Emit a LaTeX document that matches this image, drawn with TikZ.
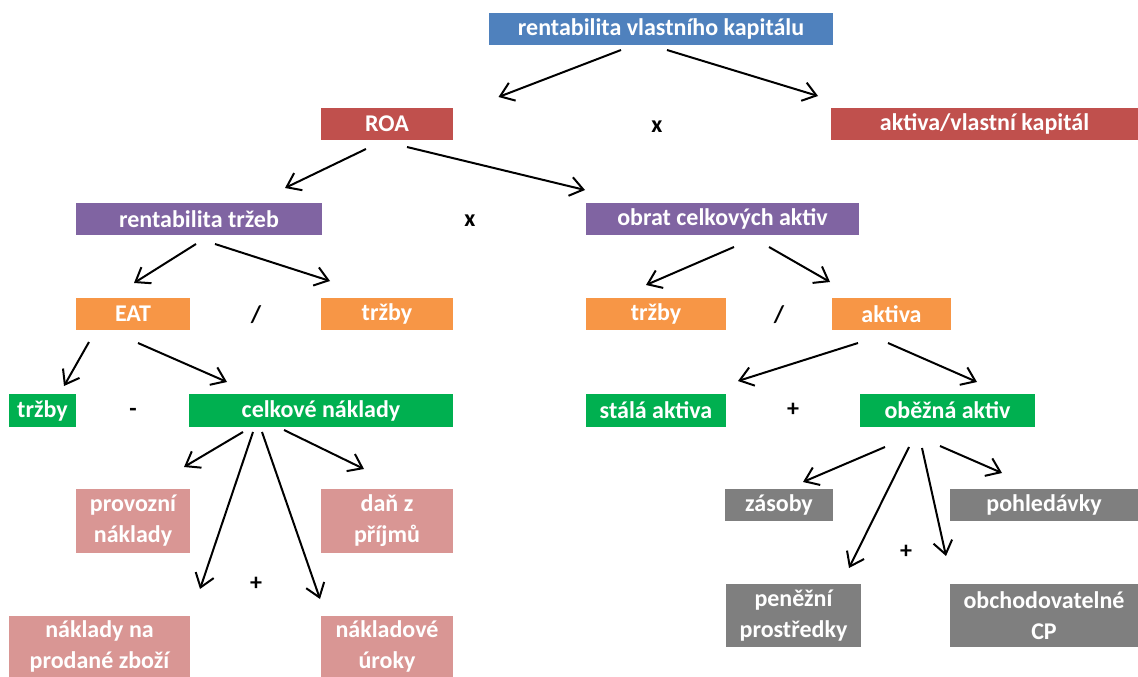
\documentclass[tikz,border=0pt]{standalone}
\usepackage{fontspec}
\setmainfont{Carlito}
\usetikzlibrary{arrows.meta}
\definecolor{cblue}{HTML}{4F81BD}
\definecolor{cred}{HTML}{C0504D}
\definecolor{cpurple}{HTML}{8064A2}
\definecolor{corange}{HTML}{F79646}
\definecolor{cgreen}{HTML}{00B050}
\definecolor{cpink}{HTML}{D99694}
\definecolor{cgray}{HTML}{7F7F7F}
\tikzset{
  box/.style={anchor=north west, inner sep=0pt, outer sep=0pt, text=white,
    font=\fontsize{24}{31}\selectfont\bfseries, align=center},
  blue/.style={box, fill=cblue},
  red/.style={box, fill=cred},
  purple/.style={box, fill=cpurple},
  orange/.style={box, fill=corange},
  green/.style={box, fill=cgreen},
  pink/.style={box, fill=cpink},
  gray/.style={box, fill=cgray},
  op/.style={inner sep=0pt, font=\fontsize{24}{31}\selectfont\bfseries},
  arr/.style={line width=2pt, -{Straight Barb[length=13pt,width=19pt,line width=2pt]}},
}
\newcommand{\bx}[7]{\node[#1, minimum width=#5pt, minimum height=#6pt] (#2) at (#3,#4) {#7};}
\begin{document}
\begin{tikzpicture}[x=1pt,y=-1pt]
\useasboundingbox (0,0) rectangle (1138,677);
% level 1
\bx{blue}{top}{489}{13}{344}{32}{rentabilita vlastního kapitálu}
% level 2
\bx{red}{roa}{321}{108}{132}{32}{ROA}
\bx{red}{akvk}{831}{108}{307}{32}{aktiva/vlastní kapitál}
% level 3
\bx{purple}{rt}{76}{203}{246}{32}{rentabilita tržeb}
\bx{purple}{oca}{586}{203}{273}{32}{obrat celkových aktiv}
% level 4
\bx{orange}{eat}{76}{298}{114}{32}{EAT}
\bx{orange}{trzA}{321}{298}{132}{32}{tržby}
\bx{orange}{trzB}{586}{298}{140}{32}{tržby}
\bx{orange}{akt}{832}{298}{119}{32}{aktiva}
% level 5
\bx{green}{trzC}{9}{394}{67}{33}{tržby}
\bx{green}{cn}{189}{394}{264}{33}{celkové náklady}
\bx{green}{sa}{586}{394}{140}{33}{stálá aktiva}
\bx{green}{oa}{860}{394}{175}{33}{oběžná aktiv}
% cost items
\bx{pink}{pn}{76}{489}{114}{64}{provozní\\náklady}
\bx{pink}{dz}{321}{489}{132}{64}{daň z\\příjmů}
\bx{pink}{nz}{9}{616}{181}{61}{náklady na\\prodané zboží}
\bx{pink}{nu}{321}{616}{132}{61}{nákladové\\úroky}
% current assets items
\bx{gray}{zas}{725}{489}{108}{32}{zásoby}
\bx{gray}{poh}{950}{489}{188}{32}{pohledávky}
\bx{gray}{pp}{726}{584}{135}{63}{peněžní\\prostředky}
\bx{gray}{ocp}{950}{584}{188}{63}{obchodovatelné\\CP}
% operators
\node[op] (o1) at (657,127) {x};
\node[op] (o2) at (470,221) {x};
\node[op] (o3) at (256,315) {/};
\node[op] (o4) at (779,315) {/};
\node[op] (o5) at (133,412) {-};
\node[op] (o6) at (793,410) {+};
\node[op] (o7) at (256,584) {+};
\node[op] (o8) at (906,552) {+};
% connectors
\draw[arr] ([shift={(-40,5)}]top.south) -- ([shift={(111.5,-11)}]roa.north);
\draw[arr] ([shift={(6,5)}]top.south) -- ([shift={(-166.5,-12)}]akvk.north);
\draw[arr] ([shift={(-21,9)}]roa.south) -- ([shift={(86,-15)}]rt.north);
\draw[arr] ([shift={(20,7)}]roa.south) -- ([shift={(-137.5,-13)}]oca.north);
\draw[arr] ([shift={(-3,9)}]rt.south) -- ([shift={(1,-15)}]eat.north);
\draw[arr] ([shift={(16,9)}]rt.south) -- ([shift={(-57,-17)}]trzA.north);
\draw[arr] ([shift={(11.5,12)}]oca.south) -- ([shift={(-10,-13)}]trzB.north);
\draw[arr] ([shift={(46.5,12)}]oca.south) -- ([shift={(-61.5,-16)}]akt.north);
\draw[arr] ([shift={(-44,12)}]eat.south) -- ([shift={(21.5,-8)}]trzC.north);
\draw[arr] ([shift={(5,13)}]eat.south) -- ([shift={(-94,-12)}]cn.north);
\draw[arr] ([shift={(-33.5,13)}]akt.south) -- ([shift={(82,-13)}]sa.north);
\draw[arr] ([shift={(-3.5,13)}]akt.south) -- ([shift={(29.5,-12)}]oa.north);
\draw[arr] ([shift={(-78,5)}]cn.south) -- ([shift={(51,-22)}]pn.north);
\draw[arr] ([shift={(-68,5)}]cn.south) -- ([shift={(100.5,-27)}]nz.north);
\draw[arr] ([shift={(-59,5)}]cn.south) -- ([shift={(-67,-17)}]nu.north);
\draw[arr] ([shift={(-37,3)}]cn.south) -- ([shift={(-23,-20)}]dz.north);
\draw[arr] ([shift={(-62.5,20)}]oa.south) -- ([shift={(24,-7)}]zas.north);
\draw[arr] ([shift={(-38.5,20)}]oa.south) -- ([shift={(55.5,-16)}]pp.north);
\draw[arr] ([shift={(-25.5,21)}]oa.south) -- ([shift={(-98,-28)}]ocp.north);
\draw[arr] ([shift={(-7.5,19)}]oa.south) -- ([shift={(-42,-16)}]poh.north);
\end{tikzpicture}
\end{document}
